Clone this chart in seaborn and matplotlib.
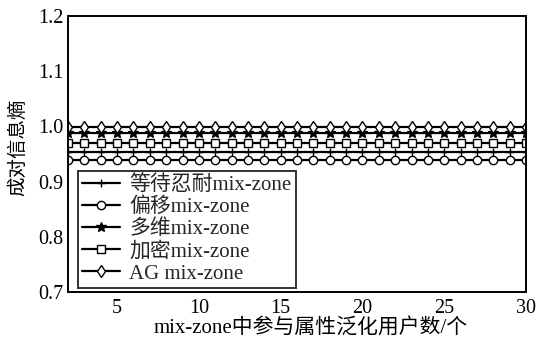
import numpy as np
import pandas as pd
import seaborn as sns
import matplotlib
matplotlib.use("Agg")
import matplotlib.pyplot as plt

# Number of users taking part in attribute generalisation
users = list(range(2, 31))

series_names = ["等待忍耐mix-zone", "偏移mix-zone", "多维mix-zone", "加密mix-zone", "AG mix-zone"]
series_levels = [0.954, 0.939, 0.988, 0.970, 0.999]
series_markers = ["+", "o", "*", "s", "d"]

x_ticks = [5, 10, 15, 20, 25, 30]
y_ticks = [0.7, 0.8, 0.9, 1.0, 1.1, 1.2]

sns.set_theme(style="white")
plt.rcParams["font.family"] = ["Liberation Serif", "Noto Sans CJK SC"]
plt.rcParams["axes.unicode_minus"] = False

rows = []
for name, level in zip(series_names, series_levels):
    for u in users:
        rows.append({"users": u, "entropy": level, "scheme": name})
df = pd.DataFrame(rows)

fig = plt.figure(figsize=(5.36, 3.43), dpi=100)
ax = fig.add_axes([68 / 536, 1 - 292 / 343, (526 - 68) / 536, (292 - 16) / 343])

for name, mk in zip(series_names, series_markers):
    sub = df[df["scheme"] == name]
    sns.lineplot(
        data=sub, x="users", y="entropy", ax=ax, color="black", linewidth=1.6,
        marker=mk, markersize=6 if mk != "*" else 7, markerfacecolor="white" if mk in "osd" else "black",
        markeredgecolor="black", markeredgewidth=1.0, label=name,
    )

ax.set_xlim(2, 30)
ax.set_ylim(0.7, 1.2)
ax.set_xticks(x_ticks)
ax.set_yticks(y_ticks)
ax.set_yticklabels([f"{v:.1f}" for v in y_ticks])
ax.tick_params(direction="in", length=4, width=1, labelsize=14.5, colors="black", pad=3)
ax.tick_params(axis="x", pad=5)
for side in ["left", "bottom", "right", "top"]:
    ax.spines[side].set_color("black")
    ax.spines[side].set_linewidth(1.4)

ax.set_xlabel("mix-zone中参与属性泛化用户数/个", fontsize=15, color="black")
ax.xaxis.set_label_coords((311 - 68) / 458, -0.095)
ax.set_ylabel("成对信息熵", fontsize=14, color="black")
ax.yaxis.set_label_coords(-0.088, 0.525)

leg = ax.legend(
    loc="lower left", bbox_to_anchor=(0.013, 0.0), fontsize=15, frameon=True,
    fancybox=False, edgecolor="black", handlelength=1.8, handletextpad=0.45,
    labelspacing=0.12, borderpad=0.2, borderaxespad=0.2,
)
leg.get_frame().set_linewidth(1.4)

fig.savefig("out.png", dpi=100)
